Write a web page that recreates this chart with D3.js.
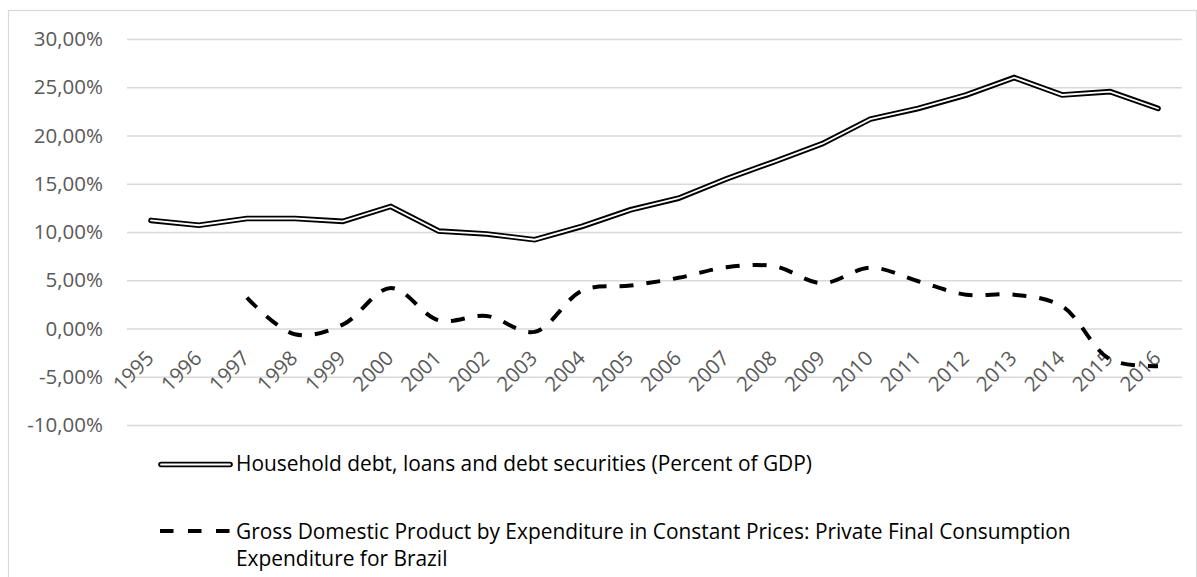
<!DOCTYPE html>
<html>
<head>
<meta charset="utf-8">
<script src="https://cdn.jsdelivr.net/npm/d3@7"></script>
<style>
  html, body { margin: 0; padding: 0; background: #fff; }
  svg { display: block; font-family: "Open Sans", Lato, sans-serif; }
</style>
</head>
<body>
<svg id="chart" width="1197" height="577"></svg>
<script>
// Years on the category axis
const years = ["1995","1996","1997","1998","1999","2000","2001","2002","2003","2004","2005",
               "2006","2007","2008","2009","2010","2011","2012","2013","2014","2015","2016"];

// Household debt, loans and debt securities (% of GDP)
const householdDebt = [11.2, 10.7, 11.4, 11.4, 11.1, 12.65, 10.1, 9.8, 9.2, 10.6, 12.3,
                       13.5, 15.5, 17.3, 19.15, 21.7, 22.8, 24.2, 26.0, 24.2, 24.55, 22.8];

// Private final consumption expenditure growth, constant prices (%), from 1997
const consumptionGrowth = [null, null, 3.2, -0.6, 0.4, 4.2, 0.85, 1.3, -0.35, 3.95, 4.45,
                           5.25, 6.35, 6.45, 4.7, 6.3, 4.9, 3.5, 3.5, 2.3, -3.2, -3.9];

const yTicks = [-10, -5, 0, 5, 10, 15, 20, 25, 30];

const seriesNames = [
  "Household debt, loans and debt securities (Percent of GDP)",
  ["Gross Domestic Product by Expenditure in Constant Prices: Private Final Consumption",
   "Expenditure for Brazil"]
];

const FONT = "'Open Sans', Lato, sans-serif";
const svg = d3.select("#chart");
const plot = { left: 127, right: 1182, top: 39, bottom: 425 };

// Chart area frame
svg.append("rect")
  .attr("x", 8.5).attr("y", 10.5)
  .attr("width", 1188).attr("height", 600)
  .attr("fill", "none").attr("stroke", "#d9d9d9").attr("stroke-width", 1.2);

const x = d3.scaleBand().domain(years).range([plot.left, plot.right]);
const y = d3.scaleLinear().domain([-10, 30]).range([plot.bottom, plot.top]);
const cx = i => x(years[i]) + x.bandwidth() / 2;

const fmt = v => v.toFixed(2).replace(".", ",") + "%";

// Horizontal gridlines + value labels
const yAxis = d3.axisLeft(y).tickValues(yTicks).tickFormat(fmt)
  .tickSize(-(plot.right - plot.left)).tickPadding(24);
const yg = svg.append("g").attr("transform", `translate(${plot.left},0)`).call(yAxis);
yg.select(".domain").remove();
yg.selectAll(".tick line").attr("stroke", "#d9d9d9").attr("stroke-width", 1.3);
yg.selectAll(".tick text").attr("fill", "#595959").style("font-size", "20.5px")
  .attr("font-family", FONT);

// Year labels, rotated 45 degrees, hanging under the zero line
const xAxis = d3.axisBottom(x).tickSize(0).tickPadding(0);
const xg = svg.append("g").attr("transform", `translate(0,${y(0)})`).call(xAxis);
xg.select(".domain").remove();
xg.selectAll(".tick text")
  .attr("fill", "#595959").style("font-size", "20.5px")
  .attr("font-family", FONT)
  .attr("text-anchor", "end")
  .attr("dy", null)
  .attr("transform", "translate(4,31) rotate(-45)");

// Household debt: double line (black outer stroke, white core)
const debtLine = d3.line().x((d, i) => cx(i)).y(d => y(d));
svg.append("path").datum(householdDebt).attr("d", debtLine)
  .attr("fill", "none").attr("stroke", "#000").attr("stroke-width", 5.6)
  .attr("stroke-linejoin", "miter").attr("stroke-linecap", "round");
svg.append("path").datum(householdDebt).attr("d", debtLine)
  .attr("fill", "none").attr("stroke", "#fff").attr("stroke-width", 1.8)
  .attr("stroke-linejoin", "miter").attr("stroke-linecap", "round");

// Consumption growth: smoothed dashed line
const growthLine = d3.line()
  .defined(d => d !== null)
  .x((d, i) => cx(i))
  .y(d => y(d))
  .curve(d3.curveCatmullRom.alpha(0.5));
svg.append("path").datum(consumptionGrowth).attr("d", growthLine)
  .attr("fill", "none").attr("stroke", "#000").attr("stroke-width", 4)
  .attr("stroke-dasharray", "14 13");

// Legend
const lg = svg.append("g").style("font-size", "20.9px").attr("font-family", FONT).attr("fill", "#000");
lg.append("line").attr("x1", 161).attr("x2", 230).attr("y1", 464.5).attr("y2", 464.5)
  .attr("stroke", "#000").attr("stroke-width", 5.6).attr("stroke-linecap", "round");
lg.append("line").attr("x1", 161).attr("x2", 230).attr("y1", 464.5).attr("y2", 464.5)
  .attr("stroke", "#fff").attr("stroke-width", 1.8).attr("stroke-linecap", "round");
lg.append("text").attr("x", 236).attr("y", 471).text(seriesNames[0]);

lg.append("line").attr("x1", 160).attr("x2", 230).attr("y1", 531).attr("y2", 531)
  .attr("stroke", "#000").attr("stroke-width", 4).attr("stroke-dasharray", "13.5 14.5");
const t2 = lg.append("text").attr("x", 236).attr("y", 539);
t2.append("tspan").attr("x", 236).text(seriesNames[1][0]);
t2.append("tspan").attr("x", 236).attr("dy", 27).text(seriesNames[1][1]);
</script>
</body>
</html>
